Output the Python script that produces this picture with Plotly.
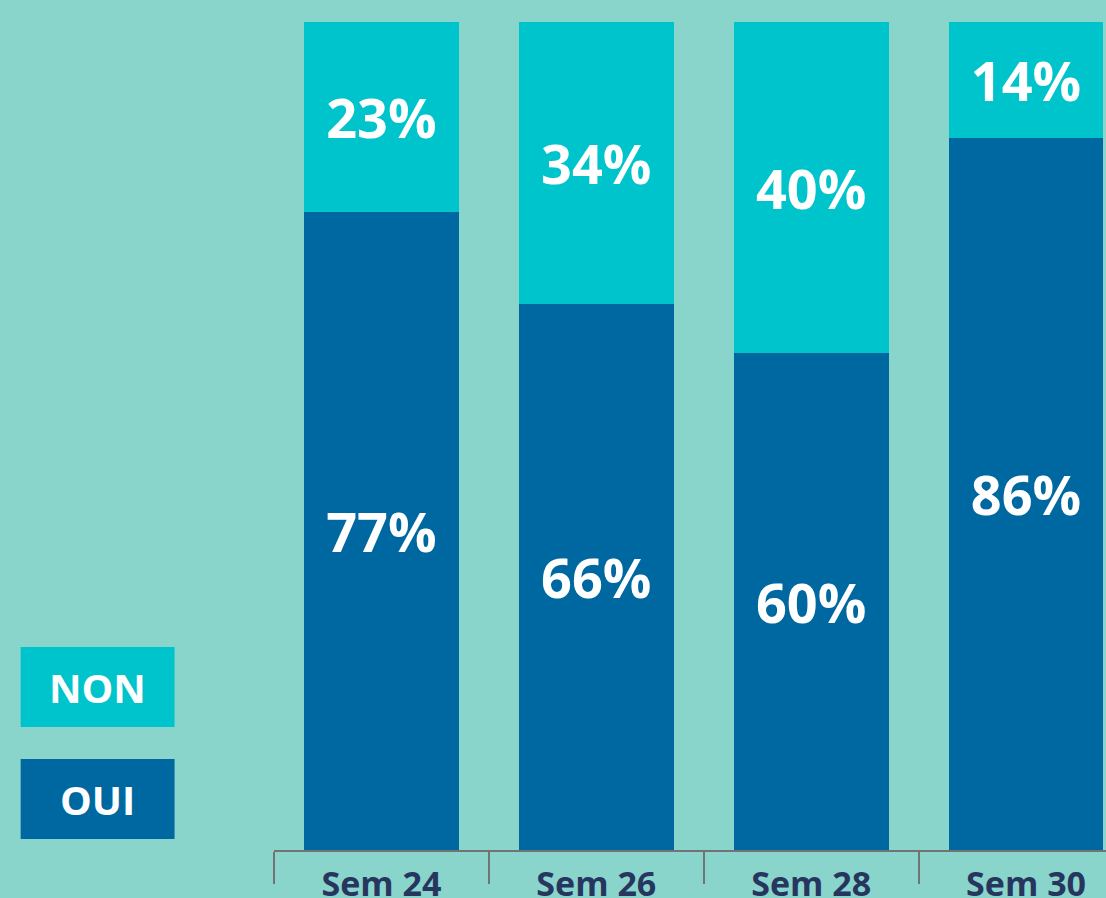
import plotly.graph_objects as go

categories = ["Sem 24", "Sem 26", "Sem 28", "Sem 30"]
oui = [77, 66, 60, 86]
non = [23, 34, 40, 14]

BG = "#89D5CB"
C_OUI = "#0068A0"
C_NON = "#00C4CC"
NAVY = "#27365F"
FONT = "Open Sans"

W, H = 1106, 898
ML, MR, MT, MB = 273.5, 0, 22, 48
plot_w = W - ML - MR
cat_px = 215.0
x_max = -0.5 + plot_w / cat_px

fig = go.Figure()
fig.add_trace(go.Bar(
    x=categories, y=oui, name="OUI", marker=dict(color=C_OUI, line=dict(width=0)),
    text=[f"{v}%" for v in oui], textposition="inside", insidetextanchor="middle",
    textfont=dict(family=FONT, size=54, color="white", weight="bold"),
    hoverinfo="skip", width=0.72,
))
fig.add_trace(go.Bar(
    x=categories, y=non, name="NON", marker=dict(color=C_NON, line=dict(width=0)),
    text=[f"{v}%" for v in non], textposition="inside", insidetextanchor="middle",
    textfont=dict(family=FONT, size=54, color="white", weight="bold"),
    hoverinfo="skip", width=0.72,
))

def px_to_paper_x(px):
    return (px - ML) / plot_w

def px_to_paper_y(py):
    return (H - MB - py) / (H - MT - MB)

legend_items = [("NON", C_NON, 647), ("OUI", C_OUI, 759)]
for label, color, top in legend_items:
    fig.add_shape(type="rect", xref="paper", yref="paper",
                  x0=px_to_paper_x(20), x1=px_to_paper_x(174),
                  y0=px_to_paper_y(top + 80), y1=px_to_paper_y(top),
                  fillcolor=color, line=dict(width=0), layer="above")
    fig.add_annotation(xref="paper", yref="paper",
                       x=px_to_paper_x(97), y=px_to_paper_y(top + 40),
                       text=label, showarrow=False, xanchor="center", yanchor="middle",
                       font=dict(family=FONT, size=40, color="white", weight="bold"))

fig.update_layout(
    width=W, height=H, barmode="stack", showlegend=False, bargap=0.28,
    paper_bgcolor=BG, plot_bgcolor=BG,
    margin=dict(l=ML, r=MR, t=MT, b=MB, pad=0, autoexpand=False),
    uniformtext=dict(mode=False),
)
fig.update_xaxes(
    type="category", range=[-0.5, x_max], tickson="boundaries", automargin=False,
    ticks="outside", ticklen=32, tickwidth=2, tickcolor="#737373",
    showline=True, linecolor="#737373", linewidth=2,
    showgrid=False, zeroline=False, ticklabelstandoff=3,
    tickfont=dict(family=FONT, size=34, color=NAVY, weight="bold"),
)
fig.update_yaxes(range=[0, 100], visible=False, showgrid=False, zeroline=False, automargin=False)

fig.write_html("out.html")
